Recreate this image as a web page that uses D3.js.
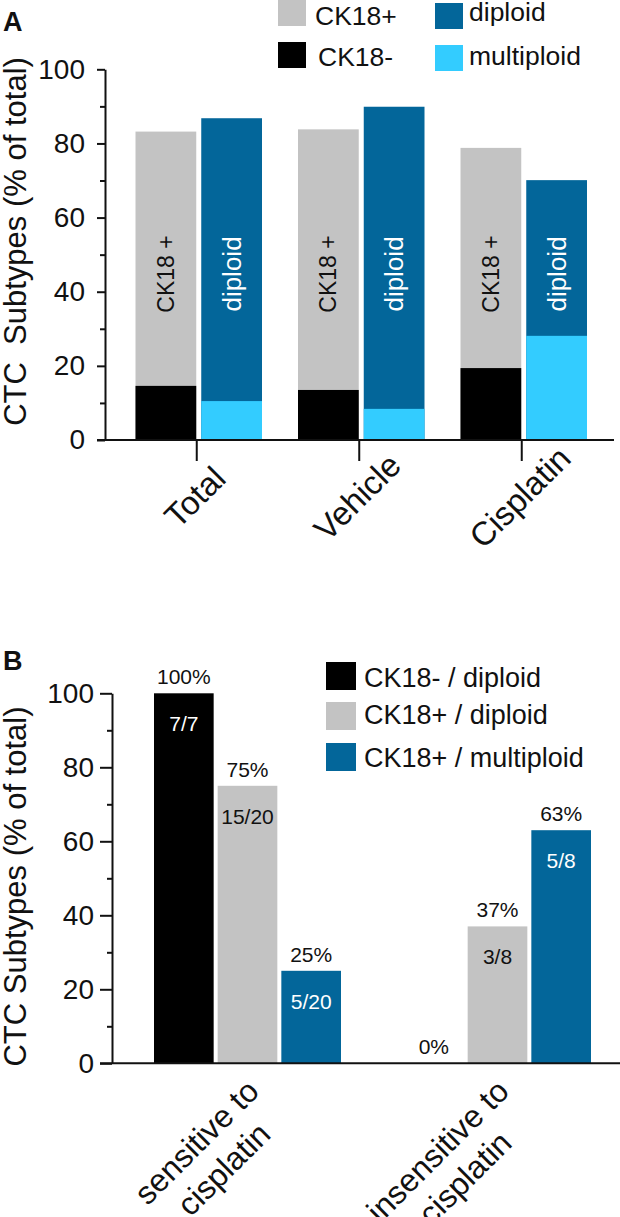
<!DOCTYPE html>
<html><head><meta charset="utf-8">
<script src="https://cdn.jsdelivr.net/npm/d3@7"></script>
<style>
body{margin:0;background:#fff}
svg{display:block}
text{font-family:"Liberation Sans",Arial,Helvetica,sans-serif;fill:#111}
</style>
</head><body>
<svg id="c" width="620" height="1217"></svg>
<script>
// ---------- data ----------
const categoriesA = ["Total", "Vehicle", "Cisplatin"];
const ck18Pos = [83.2, 83.8, 78.8];
const ck18Neg = [14.6, 13.5, 19.4];
const diploidA = [86.8, 89.9, 70.1];
const multiploidA = [10.5, 8.4, 28.1];
const legendA = ["CK18+", "CK18-", "diploid", "multiploid"];
const yTicks = [0, 20, 40, 60, 80, 100];
const yMinor = [10, 30, 50, 70, 90];

const groupsB = [["sensitive to", "cisplatin"], ["insensitive to", "cisplatin"]];
const seriesB = ["CK18- / diploid", "CK18+ / diploid", "CK18+ / multiploid"];
const valuesB = [[100, 75, 25], [0, 37, 63]];
const pctLabelsB = [["100%", "75%", "25%"], ["0%", "37%", "63%"]];
const fracLabelsB = [["7/7", "15/20", "5/20"], ["", "3/8", "5/8"]];

const COL = {gray: "#c3c3c3", black: "#000000", dblue: "#03669a", lblue: "#33ccff"};
const FONT = "'Liberation Sans', Arial, Helvetica, sans-serif";

const svg = d3.select("#c");

function styleAxis(g, fs) {
  g.selectAll("path").attr("stroke", "#111").attr("stroke-width", 2);
  g.selectAll("line").attr("stroke", "#111").attr("stroke-width", 2);
  g.selectAll("text").attr("font-size", fs).attr("font-family", FONT).attr("fill", "#111");
}

// ================= PANEL A =================
const yA = d3.scaleLinear().domain([0, 100]).range([440, 69.3]);
const xA = d3.scaleBand().domain(categoriesA).range([115.5, 603]);
const subA = d3.scaleBand().domain(["ck", "pl"]).range([20, 146.5]).paddingInner(0.076);
const bwA = subA.bandwidth();
const gA = svg.append("g");

function barsA(key, vals, color) {
  gA.append("g").selectAll("rect").data(categoriesA).join("rect")
    .attr("x", d => xA(d) + subA(key))
    .attr("width", bwA)
    .attr("y", (d, i) => yA(vals[i]))
    .attr("height", (d, i) => yA(0) - yA(vals[i]))
    .attr("fill", color);
}
barsA("ck", ck18Pos, COL.gray);
barsA("ck", ck18Neg, COL.black);
barsA("pl", diploidA, COL.dblue);
barsA("pl", multiploidA, COL.lblue);

// inner labels
gA.append("g").selectAll("text").data(categoriesA).join("text")
  .attr("transform", d => `translate(${xA(d) + subA("ck") + bwA / 2},274) rotate(-90)`)
  .attr("text-anchor", "middle").attr("dy", "0.35em")
  .attr("font-size", 23).attr("fill", "#111").text("CK18 +");
gA.append("g").selectAll("text").data(categoriesA).join("text")
  .attr("transform", d => `translate(${xA(d) + subA("pl") + bwA / 2},274) rotate(-90)`)
  .attr("text-anchor", "middle").attr("dy", "0.35em")
  .attr("font-size", 26).style("fill", "#fff").text("diploid");

// y axis
const yAxA = gA.append("g").attr("transform", "translate(105,0)")
  .call(d3.axisLeft(yA).tickValues(yTicks).tickSize(8).tickPadding(12).tickSizeOuter(0));
styleAxis(yAxA, 28);
const yMinA = gA.append("g").attr("transform", "translate(105,0)")
  .call(d3.axisLeft(yA).tickValues(yMinor).tickSize(5).tickFormat(""));
yMinA.select(".domain").remove();
styleAxis(yMinA, 28);

// x axis
const xAxA = gA.append("g").attr("transform", "translate(0,440)")
  .call(d3.axisBottom(xA).tickSize(21).tickFormat(""));
xAxA.select(".domain").remove();
styleAxis(xAxA, 28);
gA.append("line").attr("x1", 97).attr("x2", 614).attr("y1", 440).attr("y2", 440)
  .attr("stroke", "#111").attr("stroke-width", 2);
gA.append("g").selectAll("text").data(categoriesA).join("text")
  .attr("transform", d => `translate(${xA(d) + xA.bandwidth() / 2 - 2},497) rotate(-45)`)
  .attr("text-anchor", "middle").attr("dy", "0.35em")
  .attr("font-size", 33).text(d => d);

// y title
gA.append("text").attr("transform", "translate(25.5,241.5) rotate(-90)")
  .attr("text-anchor", "middle").attr("font-size", 31)
  .style("white-space", "pre").text("CTC  Subtypes (% of total)");

// panel letter
gA.append("text").attr("x", 3).attr("y", 31).attr("font-size", 27).attr("font-weight", "bold").text("A");

// legend A
const legA = [
  {t: legendA[0], c: COL.gray, rx: 278, ry: 0, tx: 315, ty: 25},
  {t: legendA[1], c: COL.black, rx: 278, ry: 42, tx: 318, ty: 66},
  {t: legendA[2], c: COL.dblue, rx: 435, ry: 3, tx: 469, ty: 21},
  {t: legendA[3], c: COL.lblue, rx: 435, ry: 45, tx: 469, ty: 65}
];
const lgA = gA.append("g");
lgA.selectAll("rect").data(legA).join("rect")
  .attr("x", d => d.rx).attr("y", d => d.ry).attr("width", 28).attr("height", 26).attr("fill", d => d.c);
lgA.selectAll("text").data(legA).join("text")
  .attr("x", d => d.tx).attr("y", d => d.ty).attr("font-size", 26.5).text(d => d.t);

// ================= PANEL B =================
const yB = d3.scaleLinear().domain([0, 100]).range([1063.3, 693.3]);
const xB = d3.scaleBand().domain(d3.range(groupsB.length)).range([124, 624]);
const subB = d3.scaleBand().domain(seriesB).range([30, 217]).paddingInner(0.063);
const bwB = subB.bandwidth();
const colB = [COL.black, COL.gray, COL.dblue];
const fracCol = ["#fff", "#111", "#fff"];
const gB = svg.append("g");

const cells = [];
groupsB.forEach((g, gi) => seriesB.forEach((s, si) => cells.push({gi, si, s, v: valuesB[gi][si],
  pct: pctLabelsB[gi][si], frac: fracLabelsB[gi][si]})));

gB.append("g").selectAll("rect").data(cells).join("rect")
  .attr("x", d => xB(d.gi) + subB(d.s)).attr("width", bwB)
  .attr("y", d => yB(d.v)).attr("height", d => yB(0) - yB(d.v))
  .attr("fill", d => colB[d.si]);
gB.append("g").selectAll("text").data(cells).join("text")
  .attr("x", d => xB(d.gi) + subB(d.s) + bwB / 2).attr("y", d => yB(d.v) - 9)
  .attr("text-anchor", "middle").attr("font-size", 21).text(d => d.pct);
gB.append("g").selectAll("text").data(cells.filter(d => d.frac)).join("text")
  .attr("x", d => xB(d.gi) + subB(d.s) + bwB / 2).attr("y", d => yB(d.v) + 38)
  .attr("text-anchor", "middle").attr("font-size", 21)
  .style("fill", d => fracCol[d.si]).text(d => d.frac);

// y axis B
const yAxB = gB.append("g").attr("transform", "translate(112,0)")
  .call(d3.axisLeft(yB).tickValues(yTicks).tickSize(12).tickPadding(6).tickSizeOuter(0));
styleAxis(yAxB, 28);
const yMinB = gB.append("g").attr("transform", "translate(112,0)")
  .call(d3.axisLeft(yB).tickValues(yMinor).tickSize(5).tickFormat(""));
yMinB.select(".domain").remove();
styleAxis(yMinB, 28);
gB.append("line").attr("x1", 100).attr("x2", 620).attr("y1", 1063.3).attr("y2", 1063.3)
  .attr("stroke", "#111").attr("stroke-width", 2);

// x labels B (two lines, centered lines, block right-anchored)
groupsB.forEach((lines, gi) => {
  const t = gB.append("text").attr("text-anchor", "middle").attr("font-size", 32);
  lines.forEach((ln, li) => t.append("tspan").attr("x", 0)
    .attr("dy", li === 0 ? "0.35em" : "1.2em").text(ln));
  let W = 0;
  t.selectAll("tspan").each(function () { W = Math.max(W, this.getComputedTextLength()); });
  const gx = xB(gi) + xB.bandwidth() / 2;
  const ax = gx + 4 - 0.7071 * W / 2, ay = 1063.3 + 22 + 0.7071 * W / 2;
  t.attr("transform", `translate(${ax},${ay}) rotate(-45)`);
});

// y title B
gB.append("text").attr("transform", "translate(26,886.5) rotate(-90)")
  .attr("text-anchor", "middle").attr("font-size", 31).text("CTC Subtypes (% of total)");

gB.append("text").attr("x", 3).attr("y", 670).attr("font-size", 27).attr("font-weight", "bold").text("B");

// legend B
const lgB = gB.append("g");
lgB.selectAll("rect").data(seriesB).join("rect")
  .attr("x", 326).attr("y", (d, i) => [662, 702, 743][i]).attr("width", 30).attr("height", 28)
  .attr("fill", (d, i) => colB[i]);
lgB.selectAll("text").data(seriesB).join("text")
  .attr("x", 364).attr("y", (d, i) => [687, 724, 766.5][i]).attr("font-size", 27).text(d => d);
</script>
</body></html>
